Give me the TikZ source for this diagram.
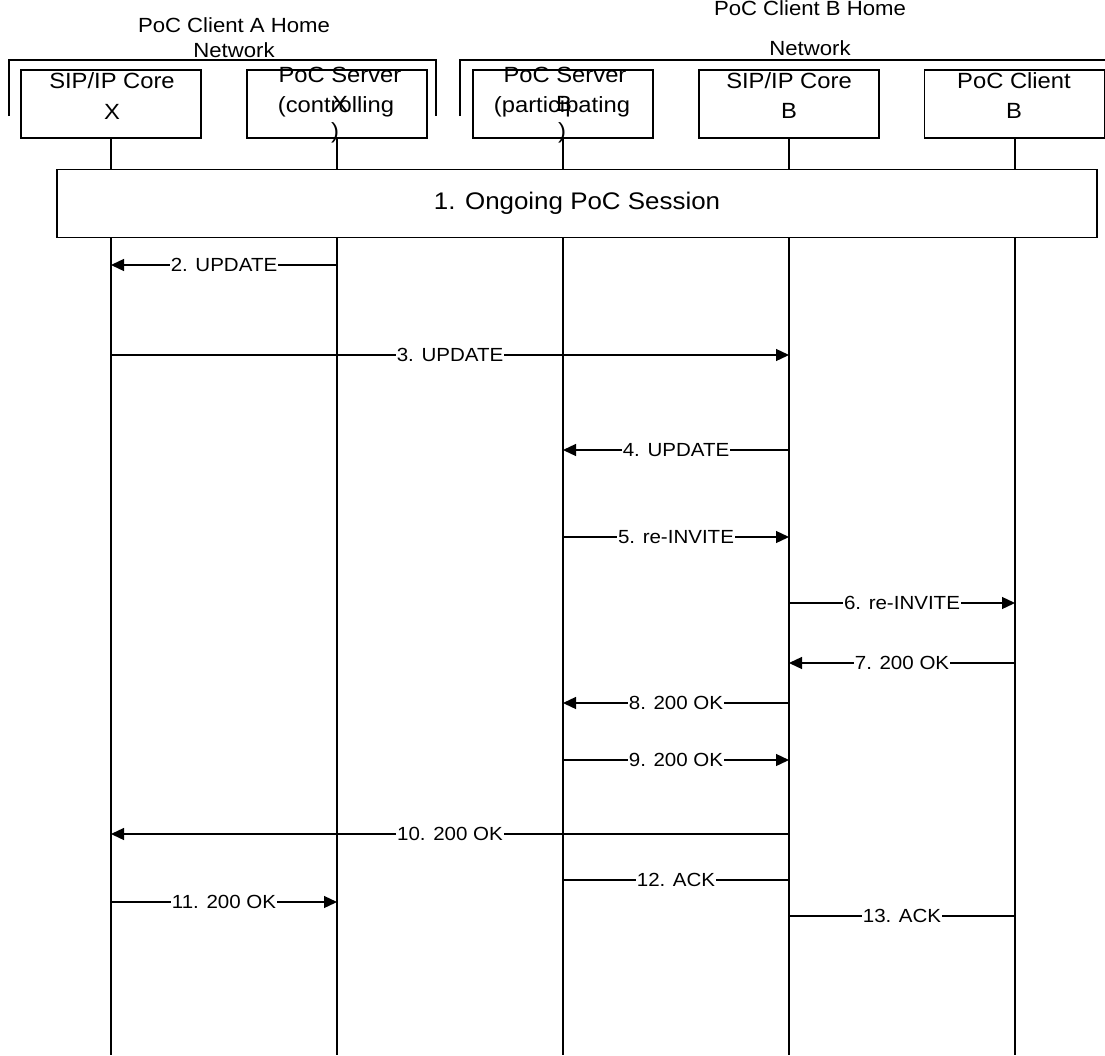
\documentclass[tikz,border=0pt]{standalone}
\usepackage{fontspec}
\setmainfont{Liberation Sans}[FakeStretch=1.08]
\usetikzlibrary{arrows.meta}
\begin{document}
\begin{tikzpicture}[x=1pt,y=-1pt,
  lanebox/.style={draw, line width=1.4pt, minimum width=180pt, minimum height=68pt, inner sep=0pt},
  life/.style={line width=1.3pt},
  brk/.style={line width=1.4pt},
  boxtxt/.style={anchor=base, inner sep=0pt, font=\fontsize{22}{24}\selectfont},
  hdr/.style={anchor=base, inner sep=0pt, font=\fontsize{20.5}{24}\selectfont},
  msg/.style={line width=1.3pt, -{Triangle[length=13pt,width=12pt]}},
  plain/.style={line width=1.3pt},
  lbl/.style={fill=white, inner sep=1.2pt, font=\fontsize{19}{20}\selectfont},
]
\useasboundingbox (0,0) rectangle (1105,1055);

% header brackets
\coordinate (ga1) at (9,116); \coordinate (ga2) at (9,60);
\coordinate (ga3) at (436,60); \coordinate (ga4) at (436,116);
\draw[brk] (ga1) -- (ga2) -- (ga3) -- (ga4);
\coordinate (gb1) at (460,116); \coordinate (gb2) at (460,60);
\coordinate (gb3) at (1105,60);
\draw[brk] (gb1) -- (gb2) -- (gb3);
\node[hdr] (ha1) at (234,32) {PoC Client A Home};
\node[hdr] (ha2) at (234,57) {Network};
\node[hdr] (hb1) at (810,15) {PoC Client B Home};
\node[hdr] (hb2) at (810,55) {Network};

% lane boxes
\node[lanebox] (b1) at (111,104) {};
\node[lanebox] (b2) at (337,104) {};
\node[lanebox] (b3) at (563,104) {};
\node[lanebox] (b4) at (789,104) {};
\node[lanebox] (b5) at (1014.5,104) {};

% box texts
\node[boxtxt] (t1a) at (112,88) {SIP/IP Core};
\node[boxtxt] (t1b) at (112,119) {X};
\node[boxtxt] (t2a) at (340,82) {PoC Server};
\node[boxtxt] (t2b) at (336,112) {(controlling};
\node[boxtxt] (t2c) at (340,111) {X};
\node[boxtxt] (t2d) at (335,138) {)};
\node[boxtxt] (t3a) at (565,82) {PoC Server};
\node[boxtxt] (t3b) at (562,112) {(participating};
\node[boxtxt] (t3c) at (564,111) {B};
\node[boxtxt] (t3d) at (562,138) {)};
\node[boxtxt] (t4a) at (789,88) {SIP/IP Core};
\node[boxtxt] (t4b) at (789,118) {B};
\node[boxtxt] (t5a) at (1014,88) {PoC Client};
\node[boxtxt] (t5b) at (1014,118) {B};

% lifelines
\coordinate (e1) at (111,1055);
\coordinate (e2) at (337,1055);
\coordinate (e3) at (563,1055);
\coordinate (e4) at (789,1055);
\coordinate (e5) at (1015,1055);
\coordinate (s5) at (1015,138);
\draw[life] (b1.south) -- (e1);
\draw[life] (b2.south) -- (e2);
\draw[life] (b3.south) -- (e3);
\draw[life] (b4.south) -- (e4);
\draw[life] (s5) -- (e5);

% session box
\node[draw, line width=1.6pt, fill=white, minimum width=1040pt, minimum height=68pt,
      inner sep=0pt, font=\fontsize{24}{26}\selectfont] (sess) at (577,203.5) {1. Ongoing PoC Session};

% messages
\coordinate (m2a) at (337,265); \coordinate (m2b) at (111,265);
\draw[msg] (m2a) -- node[lbl] (l2) {2. UPDATE} (m2b);
\coordinate (m3a) at (111,355); \coordinate (m3b) at (789,355);
\draw[msg] (m3a) -- node[lbl] (l3) {3. UPDATE} (m3b);
\coordinate (m4a) at (789,450); \coordinate (m4b) at (563,450);
\draw[msg] (m4a) -- node[lbl] (l4) {4. UPDATE} (m4b);
\coordinate (m5a) at (563,537); \coordinate (m5b) at (789,537);
\draw[msg] (m5a) -- node[lbl] (l5) {5. re-INVITE} (m5b);
\coordinate (m6a) at (789,603); \coordinate (m6b) at (1015,603);
\draw[msg] (m6a) -- node[lbl] (l6) {6. re-INVITE} (m6b);
\coordinate (m7a) at (1015,663); \coordinate (m7b) at (789,663);
\draw[msg] (m7a) -- node[lbl] (l7) {7. 200 OK} (m7b);
\coordinate (m8a) at (789,703); \coordinate (m8b) at (563,703);
\draw[msg] (m8a) -- node[lbl] (l8) {8. 200 OK} (m8b);
\coordinate (m9a) at (563,760); \coordinate (m9b) at (789,760);
\draw[msg] (m9a) -- node[lbl] (l9) {9. 200 OK} (m9b);
\coordinate (m10a) at (789,834); \coordinate (m10b) at (111,834);
\draw[msg] (m10a) -- node[lbl] (l10) {10. 200 OK} (m10b);
\coordinate (m12a) at (789,880); \coordinate (m12b) at (563,880);
\draw[plain] (m12a) -- node[lbl] (l12) {12. ACK} (m12b);
\coordinate (m11a) at (111,902); \coordinate (m11b) at (337,902);
\draw[msg] (m11a) -- node[lbl] (l11) {11. 200 OK} (m11b);
\coordinate (m13a) at (1015,916); \coordinate (m13b) at (789,916);
\draw[plain] (m13a) -- node[lbl] (l13) {13. ACK} (m13b);
\end{tikzpicture}
\end{document}
